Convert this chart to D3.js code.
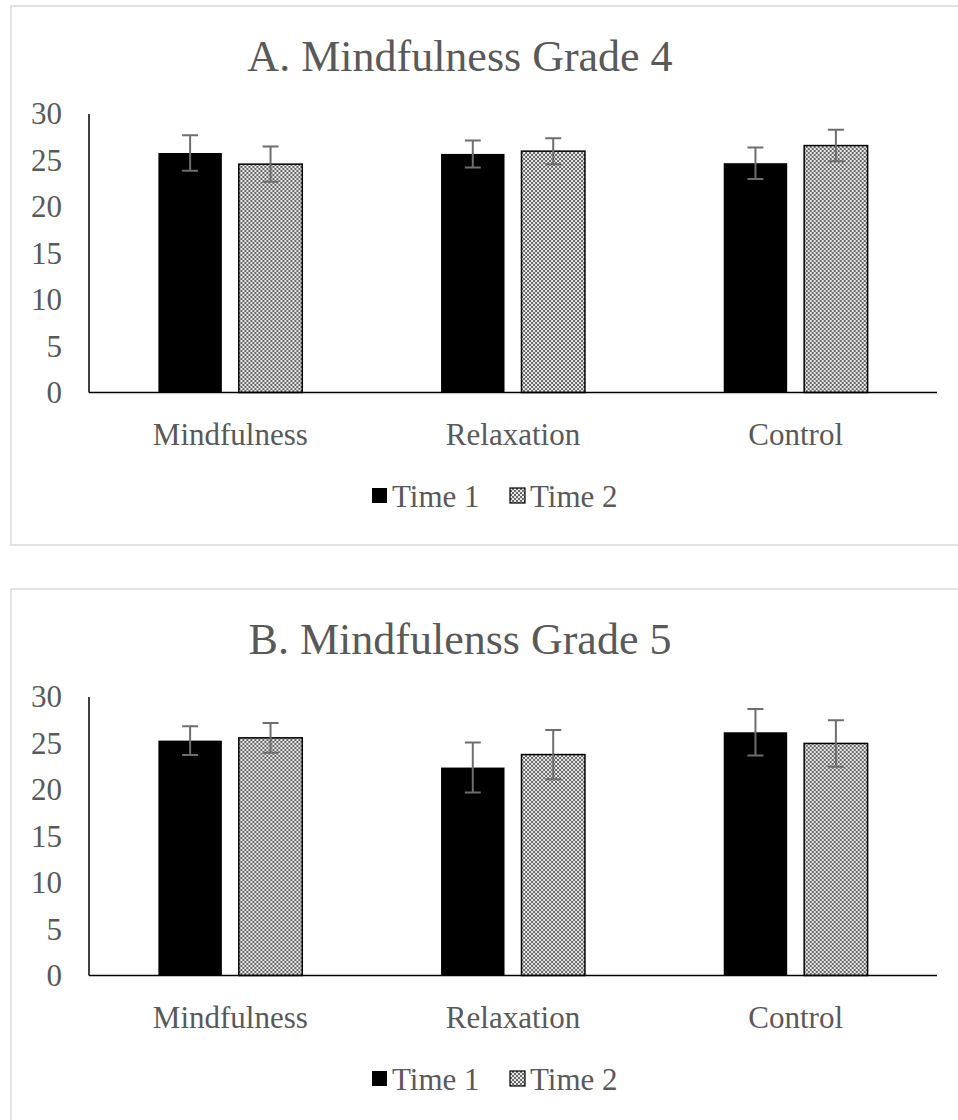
<!DOCTYPE html>
<html>
<head>
<meta charset="utf-8">
<script src="https://cdn.jsdelivr.net/npm/d3@7"></script>
<style>
  html, body { margin: 0; padding: 0; background: #fff; }
  svg { display: block; }
  svg text { font-family: "Liberation Serif", "Times New Roman", Times, "DejaVu Serif", serif !important; fill: #595959; }
</style>
</head>
<body>
<svg id="chart" width="958" height="1120"></svg>
<script>
// ---- data ----
const categories = ["Mindfulness", "Relaxation", "Control"];
const seriesNames = ["Time 1", "Time 2"];
const yTicks = [0, 5, 10, 15, 20, 25, 30];

const titleA = "A. Mindfulness Grade 4";
const gradeA_time1 = [25.8, 25.7, 24.7];
const gradeA_time2 = [24.6, 26.0, 26.6];
const gradeA_err1 = [1.9, 1.45, 1.7];
const gradeA_err2 = [1.9, 1.4, 1.7];

const titleB = "B. Mindfulenss Grade 5";
const gradeB_time1 = [25.3, 22.4, 26.2];
const gradeB_time2 = [25.6, 23.8, 25.0];
const gradeB_err1 = [1.55, 2.7, 2.5];
const gradeB_err2 = [1.6, 2.65, 2.5];

// ---- drawing ----
const FONT = '"Liberation Serif", "Times New Roman", Times, "DejaVu Serif", serif';
const svg = d3.select("#chart");
const defs = svg.append("defs");
const pat = defs.append("pattern")
  .attr("id", "checker")
  .attr("patternUnits", "userSpaceOnUse")
  .attr("width", 4).attr("height", 4);
pat.append("rect").attr("width", 4).attr("height", 4).attr("fill", "#e6e6e6");
pat.append("rect").attr("x", 0).attr("y", 0).attr("width", 2).attr("height", 2).attr("fill", "#6a6a6a");
pat.append("rect").attr("x", 2).attr("y", 2).attr("width", 2).attr("height", 2).attr("fill", "#6a6a6a");

const fills = ["#000000", "url(#checker)"];

function drawPanel(offY, title, t1, t2, e1, e2, boxH) {
  const g = svg.append("g").attr("transform", `translate(0,${offY})`);

  g.append("rect")
    .attr("x", 11).attr("y", 6)
    .attr("width", 1000).attr("height", boxH)
    .attr("fill", "#fff").attr("stroke", "#d9d9d9").attr("stroke-width", 1.5);

  const left = 89, right = 937, top = 114, bottom = 392.5;

  const y = d3.scaleLinear().domain([0, 30]).range([bottom, top]);
  const x0 = d3.scaleBand().domain(categories).range([left, right])
    .paddingInner(0.491).paddingOuter(0.2455);
  const x1 = d3.scaleBand().domain(seriesNames).range([0, x0.bandwidth()])
    .paddingInner(0.211).paddingOuter(0);

  const rows = categories.map((c, i) => ({
    cat: c,
    vals: [
      { s: seriesNames[0], v: t1[i], e: e1[i], k: 0 },
      { s: seriesNames[1], v: t2[i], e: e2[i], k: 1 }
    ]
  }));

  g.append("text")
    .attr("x", 460).attr("y", 71)
    .attr("text-anchor", "middle")
    .attr("font-family", FONT)
    .attr("font-size", 44)
    .text(title);

  const yAxis = d3.axisLeft(y).tickValues(yTicks).tickSize(0).tickPadding(27);
  const ya = g.append("g").attr("transform", `translate(${left},0)`).call(yAxis)
    .attr("font-family", FONT);
  ya.select(".domain").remove();
  ya.selectAll("text")
    .attr("font-size", 31)
    .attr("fill", "#595959");

  const grp = g.selectAll(".grp").data(rows).enter().append("g")
    .attr("transform", d => `translate(${x0(d.cat)},0)`);

  grp.selectAll("rect.bar").data(d => d.vals).enter().append("rect")
    .attr("class", "bar")
    .attr("x", d => x1(d.s))
    .attr("y", d => y(d.v))
    .attr("width", x1.bandwidth())
    .attr("height", d => y(0) - y(d.v))
    .attr("fill", d => fills[d.k])
    .attr("stroke", d => d.k === 1 ? "#000" : "none")
    .attr("stroke-width", 1.5);

  const capW = 16;
  grp.selectAll("path.err").data(d => d.vals).enter().append("path")
    .attr("class", "err")
    .attr("d", d => {
      const cx = x1(d.s) + x1.bandwidth() / 2;
      const yt = y(d.v + d.e), yb = y(d.v - d.e);
      return `M${cx},${yt}V${yb}M${cx - capW / 2},${yt}H${cx + capW / 2}M${cx - capW / 2},${yb}H${cx + capW / 2}`;
    })
    .attr("fill", "none").attr("stroke", "#6e6e6e").attr("stroke-width", 2);

  g.append("line").attr("x1", left).attr("x2", left).attr("y1", top).attr("y2", bottom)
    .attr("stroke", "#000").attr("stroke-width", 1.5);
  const xAxis = d3.axisBottom(x0).tickSize(0).tickPadding(30);
  const xa = g.append("g").attr("transform", `translate(0,${bottom})`).call(xAxis)
    .attr("font-family", FONT);
  xa.select(".domain").attr("stroke", "#000").attr("stroke-width", 1.5)
    .attr("d", `M${left},0H${right}`);
  xa.selectAll("text")
    .attr("font-size", 31)
    .attr("fill", "#595959");

  const leg = g.append("g").attr("transform", "translate(372,488)");
  const legX = [0, 138];
  seriesNames.forEach((s, i) => {
    leg.append("rect")
      .attr("x", legX[i]).attr("y", 0)
      .attr("width", 15).attr("height", 15)
      .attr("fill", fills[i])
      .attr("stroke", i === 1 ? "#000" : "none").attr("stroke-width", 1.2);
    leg.append("text")
      .attr("x", legX[i] + 20).attr("y", 19)
      .attr("font-family", FONT)
      .attr("font-size", 31)
      .text(s);
  });
}

drawPanel(0, titleA, gradeA_time1, gradeA_time2, gradeA_err1, gradeA_err2, 539);
drawPanel(583, titleB, gradeB_time1, gradeB_time2, gradeB_err1, gradeB_err2, 600);
</script>
</body>
</html>
